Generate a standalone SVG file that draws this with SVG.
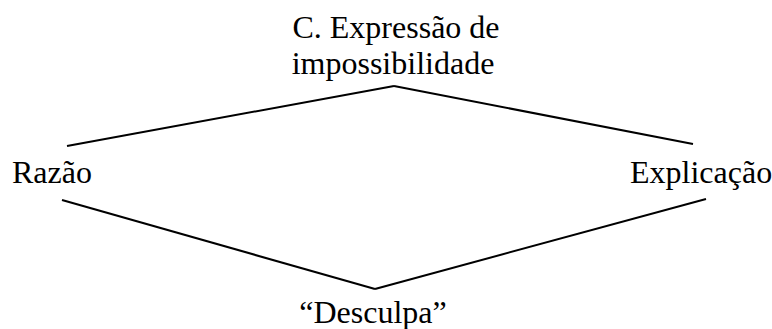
<svg xmlns="http://www.w3.org/2000/svg" width="772" height="329" viewBox="0 0 772 329">
<style>
text{font-family:"Liberation Serif","Times New Roman",serif;font-size:32px;fill:#000}
.c{fill:none;stroke:#000;stroke-width:2;stroke-linecap:butt}
</style>
<rect width="772" height="329" fill="#fff"/>
<g id="connectors">
<line class="c" x1="67" y1="146" x2="394" y2="86"/>
<line class="c" x1="394" y1="86" x2="693" y2="144"/>
<line class="c" x1="62" y1="200" x2="375" y2="289"/>
<line class="c" x1="375" y1="289" x2="706" y2="199"/>
</g>
<g id="top"><text x="396" y="38" text-anchor="middle">C. Expressão de</text><text x="393" y="74" text-anchor="middle">impossibilidade</text></g>
<g id="razao"><text x="12" y="183">Razão</text></g>
<g id="explicacao"><text x="630" y="183">Explicação</text></g>
<g id="desculpa"><text x="373" y="323" text-anchor="middle">“Desculpa”</text></g>
</svg>
